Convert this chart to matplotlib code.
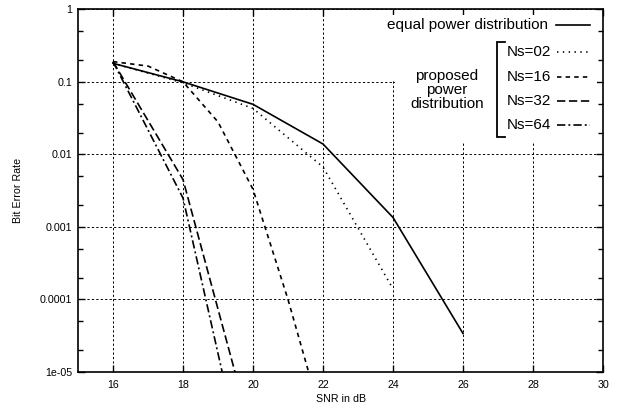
import matplotlib
matplotlib.use('Agg')
import matplotlib.pyplot as plt
from matplotlib.ticker import FixedLocator, FixedFormatter, NullFormatter
from matplotlib.patches import Rectangle
from matplotlib.lines import Line2D

# ---------------- data ----------------
snr_equal = [16, 18, 20, 22, 24, 26]
ber_equal = [0.18, 0.1, 0.049, 0.0139, 0.00135, 3.4e-5]

snr_ns02 = [16, 18, 20, 22, 24]
ber_ns02 = [0.18, 0.097, 0.043, 0.0067, 0.00014]

snr_ns16 = [16, 17, 18, 19, 20, 21, 22]
ber_ns16 = [0.19, 0.165, 0.1, 0.028, 0.0033, 1.0e-4, 2e-6]

snr_ns32 = [16, 18, 20]
ber_ns32 = [0.19, 0.0045, 1.2e-6]

snr_ns64 = [16, 18, 20]
ber_ns64 = [0.19, 0.0025, 1.3e-7]

x_ticks = [16, 18, 20, 22, 24, 26, 28, 30]
x_tick_labels = ['16', '18', '20', '22', '24', '26', '28', '30']
y_ticks = [1e-5, 1e-4, 1e-3, 1e-2, 1e-1, 1]
y_tick_labels = ['1e-05', '0.0001', '0.001', '0.01', '0.1', '1']
y_minor_ticks = [m * 10.0 ** e for e in range(-5, 0) for m in (2, 5)]

legend_main = 'equal power distribution'
legend_group = 'proposed\npower\ndistribution'
legend_ns = ['Ns=02', 'Ns=16', 'Ns=32', 'Ns=64']

# ---------------- style ----------------
plt.rcParams['font.family'] = ['Liberation Sans', 'DejaVu Sans']
plt.rcParams['lines.scale_dashes'] = False

W, H = 621, 412
L, R, T, B = 78, 603, 9.3, 372

fig = plt.figure(figsize=(W / 100, H / 100), dpi=100)
ax = fig.add_axes([L / W, 1 - B / H, (R - L) / W, (B - T) / H])

def axc(px, py):
    return ((px - L) / (R - L), (B - py) / (B - T))

lw = 1.2
styles = {
    'equal': dict(color='black', lw=lw, linestyle='-'),
    'ns02': dict(color='black', lw=lw, linestyle=(0, (1.0, 3.2))),
    'ns16': dict(color='black', lw=lw, linestyle=(0, (3.2, 3.0))),
    'ns32': dict(color='black', lw=lw, linestyle=(0, (6.0, 2.6))),
    'ns64': dict(color='black', lw=lw, linestyle=(0, (6.0, 2.2, 1.4, 2.2))),
}

ax.plot(snr_equal, ber_equal, zorder=2, **styles['equal'])
ax.plot(snr_ns02, ber_ns02, zorder=2, **styles['ns02'])
ax.plot(snr_ns16, ber_ns16, zorder=2, **styles['ns16'])
ax.plot(snr_ns32, ber_ns32, zorder=2, **styles['ns32'])
ax.plot(snr_ns64, ber_ns64, zorder=2, **styles['ns64'])

ax.set_yscale('log')
ax.set_xlim(15, 30)
ax.set_ylim(1e-5, 1)

ax.xaxis.set_major_locator(FixedLocator(x_ticks))
ax.xaxis.set_major_formatter(FixedFormatter(x_tick_labels))
ax.yaxis.set_major_locator(FixedLocator(y_ticks))
ax.yaxis.set_major_formatter(FixedFormatter(y_tick_labels))
ax.yaxis.set_minor_locator(FixedLocator(y_minor_ticks))
ax.yaxis.set_minor_formatter(NullFormatter())
ax.xaxis.set_minor_locator(FixedLocator([]))

ax.tick_params(which='both', direction='in', top=True, right=True,
               width=1.0, colors='black', labelsize=7.7)
ax.tick_params(which='major', length=5)
ax.tick_params(which='minor', length=3.5)
ax.tick_params(axis='x', pad=6)
ax.tick_params(axis='y', pad=4)

for s in ax.spines.values():
    s.set_linewidth(1.2)
    s.set_color('black')

ax.set_axisbelow(True)
ax.grid(True, which='major', color='black', linestyle=(0, (1.6, 1.6)), linewidth=0.7)

ax.set_xlabel('SNR in dB', fontsize=7.7)
ax.xaxis.set_label_coords(0.5, axc(0, 399)[1])
ax.xaxis.label.set_va('center')
ax.set_ylabel('Bit Error Rate', fontsize=7.7)
ax.yaxis.set_label_coords(axc(18, 0)[0], 0.5)
ax.yaxis.label.set_va('center')

# white key background (hides grid behind the key)
for (x0, y0, x1, y1) in [(388, 15, 597, 80), (395, 80, 597, 142)]:
    a0 = axc(x0, y1)
    a1 = axc(x1, y0)
    ax.add_patch(Rectangle(a0, a1[0] - a0[0], a1[1] - a0[1], transform=ax.transAxes,
                           facecolor='white', edgecolor='none', zorder=1))

fs_key = 11
# main entry
tx, ty = axc(548, 25)
ax.text(tx, ty, legend_main, transform=ax.transAxes, ha='right', va='center',
        fontsize=fs_key, zorder=3)
x0, y0 = axc(556, 25)
x1, _ = axc(590, 25)
ax.add_line(Line2D([x0, x1], [y0, y0], transform=ax.transAxes, clip_on=False,
                   zorder=3, **styles['equal']))

# Ns entries
keys = ['ns02', 'ns16', 'ns32', 'ns64']
ys = [52, 77, 101, 125]
for lab, k, py in zip(legend_ns, keys, ys):
    tx, ty = axc(551, py)
    ax.text(tx, ty, lab, transform=ax.transAxes, ha='right', va='center',
            fontsize=fs_key, zorder=3)
    x0, y0 = axc(557, py)
    x1, _ = axc(590, py)
    ax.add_line(Line2D([x0, x1], [y0, y0], transform=ax.transAxes, clip_on=False,
                       zorder=3, **styles[k]))

# bracket
bx = [505, 497, 497, 505]
by = [42, 42, 137, 137]
ax.add_line(Line2D([axc(px, 0)[0] for px in bx], [axc(0, py)[1] for py in by],
                   transform=ax.transAxes, color='black', lw=1.3, zorder=3,
                   clip_on=False, solid_joinstyle='miter'))

gx, gy = axc(447, 90)
ax.text(gx, gy, legend_group, transform=ax.transAxes, ha='center', va='center',
        fontsize=fs_key, linespacing=1.02, multialignment='center', zorder=3)

fig.savefig('out.png', dpi=100)
